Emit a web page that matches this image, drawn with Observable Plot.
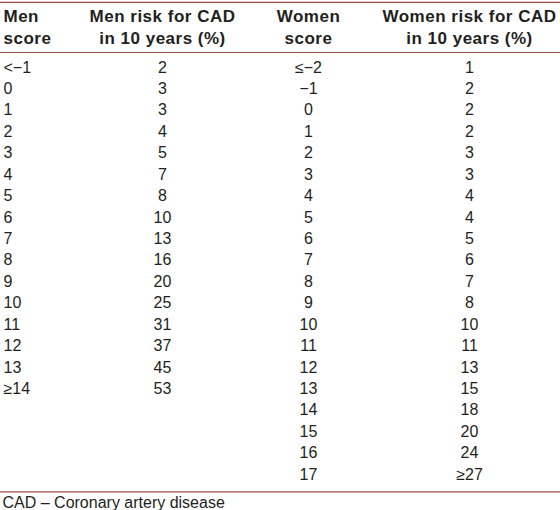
<!DOCTYPE html>
<html>
<head>
<meta charset="utf-8">
<script src="https://cdn.jsdelivr.net/npm/d3@7"></script>
<script src="https://cdn.jsdelivr.net/npm/@observablehq/plot@0.6"></script>
<style>
  html, body { margin: 0; padding: 0; background: #fff; }
  #chart svg { display: block; }
  #chart g[font-weight="bold"] text { letter-spacing: 0.5px; }
</style>
</head>
<body>
<div id="chart"></div>
<script>
// ---- Data ----
const menScore = ["<\u22121","0","1","2","3","4","5","6","7","8","9","10","11","12","13","\u226514"];
const menRisk = ["2","3","3","4","5","7","8","10","13","16","20","25","31","37","45","53"];
const womenScore = ["\u2264\u22122","\u22121","0","1","2","3","4","5","6","7","8","9","10","11","12","13","14","15","16","17"];
const womenRisk = ["1","2","2","2","3","3","4","4","5","6","7","8","10","11","13","15","18","20","24","\u226527"];
const headerLine1 = ["Men","Men risk for CAD","Women","Women risk for CAD"];
const headerLine2 = ["score","in 10 years (%)","score","in 10 years (%)"];
const caption = "CAD \u2013 Coronary artery disease";

// ---- Layout ----
const colX = [3, 162, 308, 469];
const colAnchor = ["start", "middle", "middle", "middle"];
const columns = [menScore, menRisk, womenScore, womenRisk];
const ink = "#231f20";
const ruleColor = "#a04a48";
const font = "Liberation Sans, Arial, Helvetica, sans-serif";

const cells = [];
columns.forEach((col, c) => col.forEach((label, r) => cells.push({c, x: colX[c], row: r, label, anchor: colAnchor[c]})));
const heads = [];
headerLine1.forEach((t, c) => heads.push({c, x: colX[c], row: -2.38, label: t, anchor: colAnchor[c]}));
headerLine2.forEach((t, c) => heads.push({c, x: colX[c], row: -1.35, label: t, anchor: colAnchor[c]}));

const textMarks = (data, weight, size) => ["start", "middle"].map(a =>
  Plot.text(data.filter(d => d.anchor === a), {
    x: "x", y: "row", text: "label", textAnchor: a,
    fontSize: size, fontWeight: weight, fill: ink, fontFamily: font
  })
);

const chart = Plot.plot({
  width: 560,
  height: 510,
  margin: 0,
  x: {domain: [0, 560], range: [0, 560], axis: null},
  y: {domain: [0, 19], range: [67, 474], axis: null},
  style: {fontFamily: font, background: "#fff"},
  marks: [
    Plot.ruleY([-3.04, -0.70, 19.81], {stroke: ruleColor, strokeWidth: 1.2}),
    ...textMarks(heads, "bold", 17),
    ...textMarks(cells, "normal", 16),
    Plot.text([caption], {x: 2, y: 20.32, text: d => d, textAnchor: "start", fontSize: 16, fill: ink, fontFamily: font})
  ]
});
document.getElementById("chart").appendChild(chart);
</script>
</body>
</html>
